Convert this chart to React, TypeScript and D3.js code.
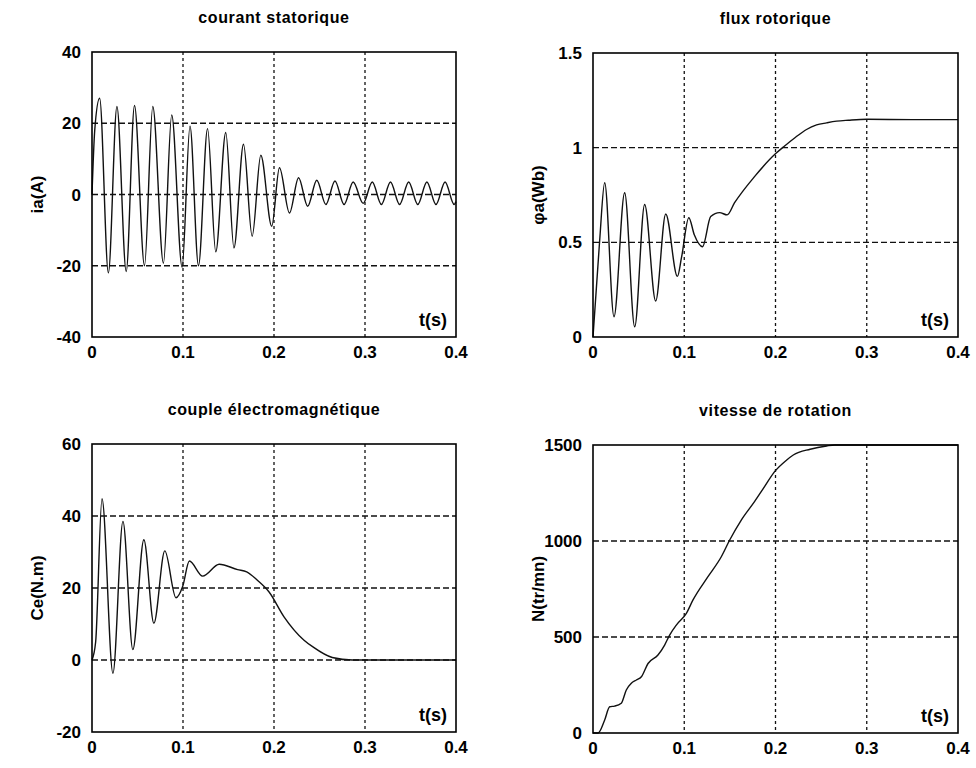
import * as d3 from "d3";

// courant statorique (A)
const tIa = [0, 0.003, 0.0084, 0.018, 0.0274, 0.0376, 0.0467, 0.0577, 0.0668, 0.0785, 0.0876, 0.099, 0.1077, 0.117, 0.127, 0.136, 0.147, 0.156, 0.1665, 0.176, 0.1855, 0.1975, 0.206, 0.217, 0.227, 0.237, 0.247, 0.257, 0.267, 0.277, 0.287, 0.298, 0.308, 0.318, 0.328, 0.338, 0.348, 0.358, 0.368, 0.378, 0.388, 0.398, 0.4];
const ia = [0, 18, 27, -22, 24.7, -21.6, 25, -20, 24.7, -19.3, 22.3, -20.4, 19.2, -20, 18.5, -16.1, 17.4, -15, 14.1, -11.7, 11, -8.9, 7.5, -5.2, 4.7, -3.3, 4, -2.8, 3.8, -2.8, 3.5, -2.5, 3.5, -2.8, 3.5, -2.8, 3.5, -2.8, 3.5, -2.8, 3.5, -2.8, -2];

// flux rotorique (Wb)
const tPhi = [0, 0.0073, 0.0128, 0.023, 0.0347, 0.0457, 0.0566, 0.0687, 0.0797, 0.0925, 0.097, 0.105, 0.111, 0.12, 0.129, 0.1387, 0.147, 0.155, 0.177, 0.2005, 0.209, 0.222, 0.234, 0.245, 0.256, 0.267, 0.28, 0.3, 0.35, 0.4];
const phi = [0, 0.51, 0.815, 0.107, 0.762, 0.054, 0.7, 0.19, 0.65, 0.32, 0.42, 0.63, 0.54, 0.477, 0.636, 0.657, 0.645, 0.708, 0.847, 0.97, 1.005, 1.055, 1.096, 1.12, 1.131, 1.14, 1.145, 1.15, 1.148, 1.148];

// couple electromagnetique (N.m)
const tCe = [0, 0.004, 0.011, 0.023, 0.034, 0.0449, 0.057, 0.068, 0.08, 0.0923, 0.0997, 0.107, 0.1216, 0.1398, 0.16, 0.17, 0.182, 0.1946, 0.211, 0.233, 0.2424, 0.264, 0.286, 0.3, 0.4];
const ce = [0, 5, 44.8, -3.7, 38.5, 2.9, 33.4, 10.2, 30.3, 17.3, 20.5, 27.5, 23.3, 26.6, 25.1, 24.5, 22.1, 18.9, 12, 5.5, 3.7, 0.7, 0, 0, 0];

// vitesse de rotation (tr/mn)
const tN = [0, 0.0055, 0.0128, 0.0183, 0.0237, 0.031, 0.0365, 0.042, 0.0475, 0.053, 0.0603, 0.0712, 0.0785, 0.084, 0.0913, 0.1023, 0.1096, 0.126, 0.1406, 0.1498, 0.1625, 0.177, 0.188, 0.199, 0.2123, 0.2195, 0.238, 0.256, 0.265, 0.4];
const speed = [0, 0, 68, 137, 140, 155, 224, 259, 276, 293, 362, 406, 458, 510, 562, 623, 693, 814, 918, 1005, 1109, 1205, 1283, 1361, 1422, 1448, 1478, 1495, 1500, 1500];

const xTicks = [0, 0.1, 0.2, 0.3, 0.4];
const xTickLabels = ["0", "0.1", "0.2", "0.3", "0.4"];
const iaTicks = [40, 20, 0, -20, -40];
const phiTicks = [1.5, 1, 0.5, 0];
const ceTicks = [60, 40, 20, 0, -20];
const nTicks = [1500, 1000, 500, 0];

const font = "'Liberation Sans', Arial, sans-serif";

type PanelProps = {
  box: { x0: number; x1: number; y0: number; y1: number };
  title: string;
  ylabel: string;
  t: number[];
  v: number[];
  yDomain: [number, number];
  yTicks: number[];
};

function Panel({ box, title, ylabel, t, v, yDomain, yTicks }: PanelProps) {
  const x = d3.scaleLinear().domain([0, 0.4]).range([box.x0, box.x1]);
  const y = d3.scaleLinear().domain(yDomain).range([box.y1, box.y0]);
  const pts = t.map((d, i) => [d, v[i]] as [number, number]);
  const line = d3
    .line<[number, number]>()
    .x((d) => x(d[0]))
    .y((d) => y(d[1]))
    .curve(d3.curveMonotoneX);
  const cx = (box.x0 + box.x1) / 2;
  const cy = (box.y0 + box.y1) / 2;

  return (
    <g>
      {/* grid */}
      {xTicks.slice(1, -1).map((d) => (
        <line key={"gx" + d} x1={x(d)} x2={x(d)} y1={box.y0} y2={box.y1}
          stroke="#111" strokeWidth={1.3} strokeDasharray="3,3" />
      ))}
      {yTicks.slice(1, -1).map((d) => (
        <line key={"gy" + d} x1={box.x0} x2={box.x1} y1={y(d)} y2={y(d)}
          stroke="#111" strokeWidth={1.3} strokeDasharray="6,3" />
      ))}
      <path d={line(pts) || ""} fill="none" stroke="#111" strokeWidth={1.4} />
      <rect x={box.x0} y={box.y0} width={box.x1 - box.x0} height={box.y1 - box.y0}
        fill="none" stroke="#000" strokeWidth={1.6} />
      {/* tick labels */}
      {xTicks.map((d, i) => (
        <text key={"tx" + d} x={x(d)} y={box.y1 + 21} textAnchor="middle"
          fontFamily={font} fontWeight="bold" fontSize={17}>{xTickLabels[i]}</text>
      ))}
      {yTicks.map((d) => (
        <text key={"ty" + d} x={box.x0 - 11} y={y(d) + 6} textAnchor="end"
          fontFamily={font} fontWeight="bold" fontSize={17}>{String(d)}</text>
      ))}
      <text x={cx} y={box.y0 - 29} textAnchor="middle" fontFamily={font}
        fontWeight="bold" fontSize={16} letterSpacing={0.6}>{title}</text>
      <text transform={`translate(${box.x0 - 49},${cy}) rotate(-90)`} textAnchor="middle"
        fontFamily={font} fontWeight="bold" fontSize={17}>{ylabel}</text>
      <text x={box.x1 - 9} y={box.y1 - 11} textAnchor="end" fontFamily={font}
        fontWeight="bold" fontSize={18}>t(s)</text>
    </g>
  );
}

export default function App() {
  return (
    <svg width={976} height={768} style={{ position: "absolute", left: 0, top: 0, background: "#fff" }}>
      <rect width={976} height={768} fill="#fff" />
      <Panel box={{ x0: 92, x1: 456, y0: 52, y1: 337 }} title="courant statorique" ylabel="ia(A)"
        t={tIa} v={ia} yDomain={[-40, 40]} yTicks={iaTicks} />
      <Panel box={{ x0: 593, x1: 958, y0: 53, y1: 337 }} title="flux rotorique" ylabel="φa(Wb)"
        t={tPhi} v={phi} yDomain={[0, 1.5]} yTicks={phiTicks} />
      <Panel box={{ x0: 92, x1: 456, y0: 444, y1: 732 }} title="couple électromagnétique" ylabel="Ce(N.m)"
        t={tCe} v={ce} yDomain={[-20, 60]} yTicks={ceTicks} />
      <Panel box={{ x0: 593, x1: 958, y0: 445, y1: 733 }} title="vitesse de rotation" ylabel="N(tr/mn)"
        t={tN} v={speed} yDomain={[0, 1500]} yTicks={nTicks} />
    </svg>
  );
}
